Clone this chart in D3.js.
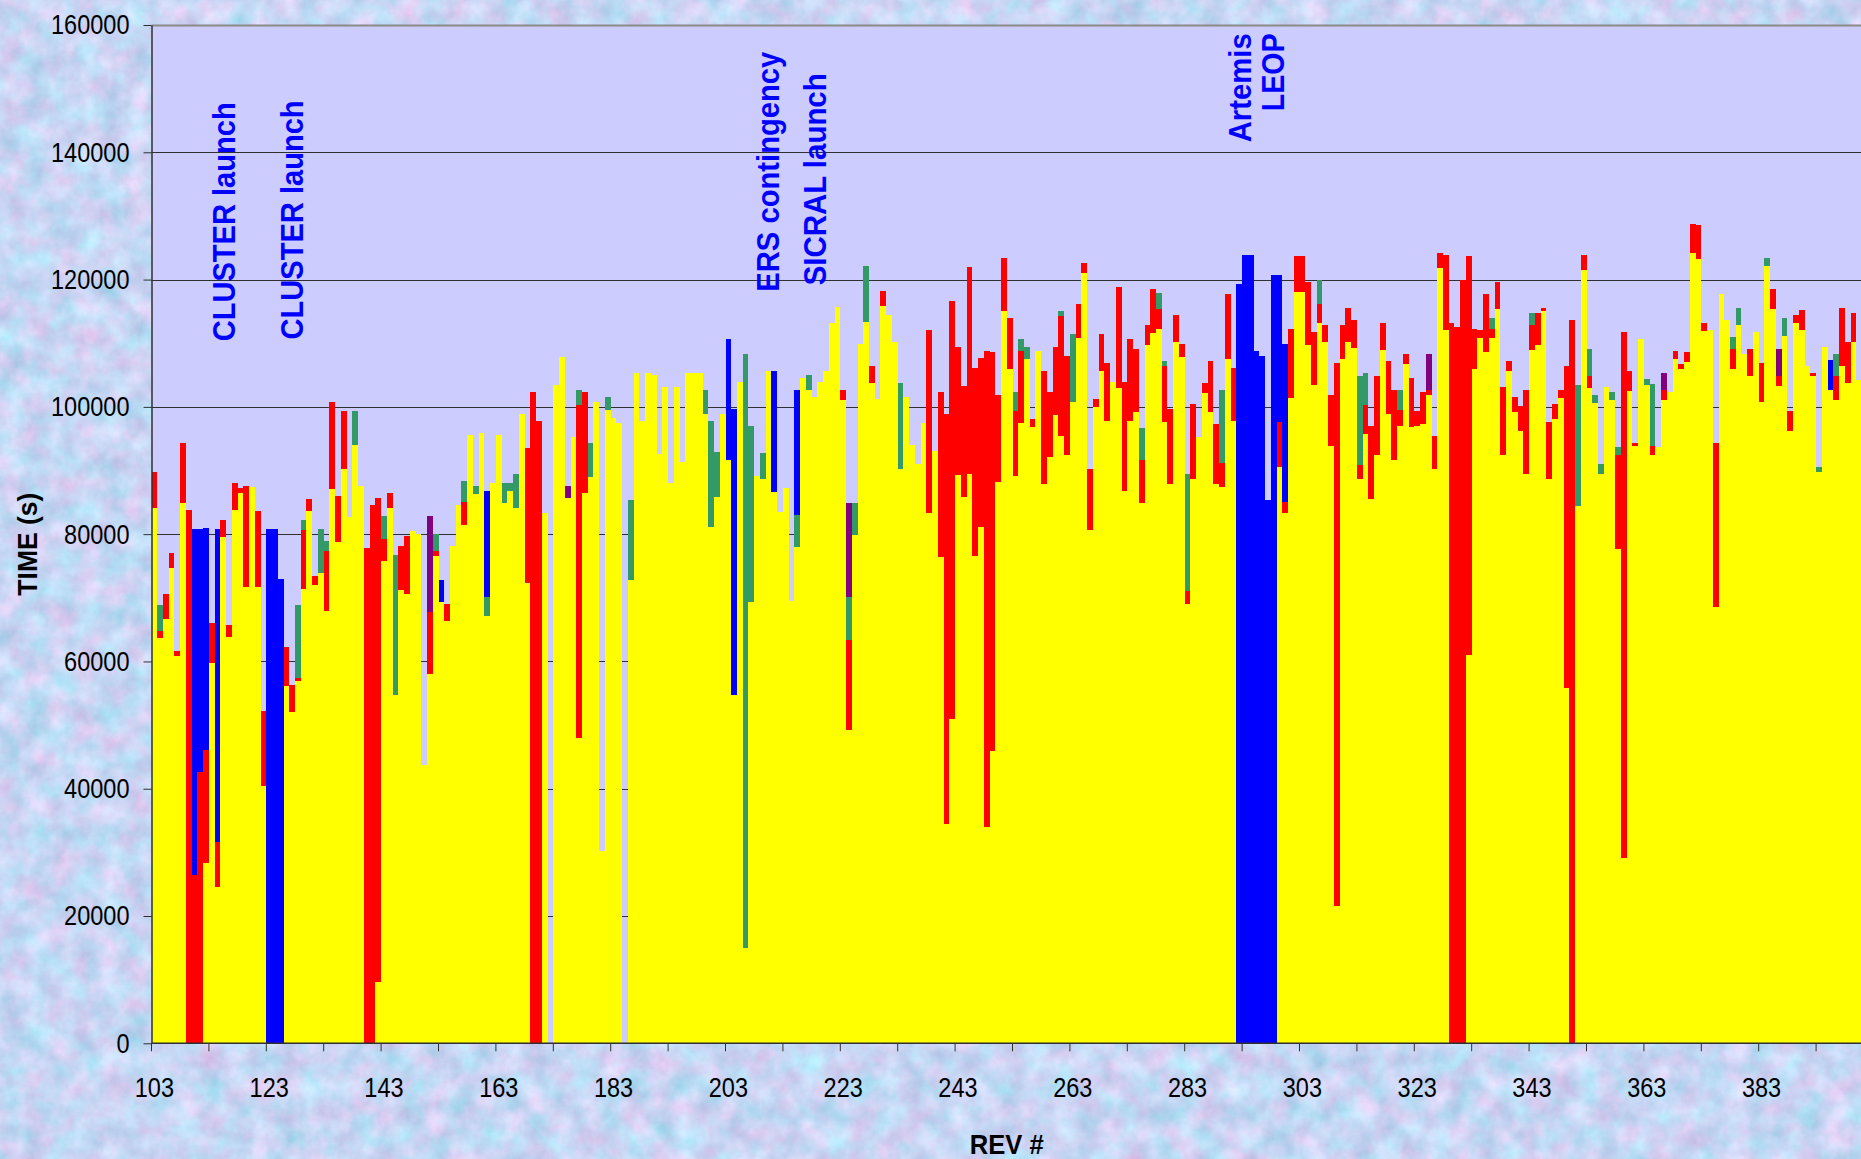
<!DOCTYPE html>
<html>
<head>
<meta charset="utf-8">
<script src="https://d3js.org/d3.v7.min.js"></script>
<style>
  html, body { margin: 0; padding: 0; background: #c7d5f3; }
  svg { display: block; }
  text { font-family: "Liberation Sans", Arial, Helvetica, sans-serif; }
</style>
</head>
<body>
<div id="chart"></div>
<script>
// revolutions shown on the category axis
var firstRev = 103, lastRev = 400;
var revs = d3.range(firstRev, lastRev + 1);
var yTicks = [0, 20000, 40000, 60000, 80000, 100000, 120000, 140000, 160000];
var tickEvery = 10, labelEvery = 20;

// time per rev (s), one array per coloured series, stacked in this order
var yellowVals = [
  84100, 63700, 66600, 74700, 60800, 84900, 0, 0, 0, 28400,
  59700, 24500, 79600, 63900, 83800, 86500, 71700, 87400, 71700, 40500,
  0, 0, 0, 56100, 52100, 57000, 71400, 83600, 72000, 73900,
  67900, 87100, 78800, 90300, 82700, 94000, 87500, 0, 0, 9600,
  75800, 84100, 54800, 71300, 70600, 80500, 80000, 43800, 58000, 76500,
  69300, 66400, 78200, 84600, 81400, 95600, 86300, 95900, 67100, 88000,
  95600, 84900, 86800, 84100, 98800, 72300, 0, 0, 83400, 0,
  103500, 107900, 85700, 95200, 48000, 86400, 89000, 100700, 30200, 99500,
  98200, 97500, 0, 72800, 105300, 97800, 105300, 105000, 92600, 103100,
  88000, 103100, 91300, 105300, 105300, 105300, 98800, 81100, 85800, 98800,
  91700, 54800, 103900, 15000, 69300, 89100, 88600, 105600, 86700, 83500,
  87300, 69500, 78000, 104600, 102600, 101500, 103900, 105600, 113200, 115700,
  101100, 49300, 79800, 109900, 113400, 103700, 101300, 115800, 114500, 110200,
  90200, 101500, 94000, 91100, 97500, 83400, 93000, 76400, 34400, 51000,
  89300, 85800, 89500, 76500, 81100, 34000, 46000, 88200, 115100, 106000,
  89100, 97400, 107500, 96800, 108800, 87900, 92100, 98700, 95400, 92400,
  100700, 110800, 121100, 80700, 100000, 105700, 97800, 103900, 102900, 86800,
  97800, 99200, 84900, 109700, 111600, 112300, 97600, 87900, 110200, 107900,
  69100, 88600, 95200, 102200, 99200, 87900, 87400, 107500, 97800, 0,
  0, 0, 0, 0, 0, 0, 90600, 83400, 101400, 118000,
  118000, 109700, 103500, 113200, 110200, 93900, 21600, 107500, 110200, 109200,
  88600, 95700, 85500, 92400, 109000, 98900, 91700, 97000, 106800, 96800,
  97000, 97300, 101800, 90200, 121800, 112100, 0, 0, 0, 61000,
  105900, 110800, 108600, 110800, 115400, 92400, 105700, 99200, 96200, 89500,
  109000, 109700, 115100, 88600, 98100, 101400, 55800, 0, 84500, 121500,
  102900, 100600, 89500, 103100, 101100, 77600, 29100, 102500, 93900, 110600,
  103500, 92400, 93700, 101100, 102400, 107500, 105900, 107000, 124200, 123300,
  111900, 112100, 68600, 117800, 113600, 105900, 112800, 108300, 104800, 111700,
  100700, 122200, 115400, 103300, 111200, 96200, 113200, 112100, 106400, 104800,
  89700, 109400, 102600, 101100, 106400, 103700, 110200, 104200
];
var redVals = [
  5700, 1100, 4000, 2400, 800, 9400, 83800, 26400, 42700, 17700,
  6300, 7200, 2600, 1800, 4200, 700, 15800, 0, 11900, 11700,
  0, 0, 0, 6200, 4200, 400, 9300, 2000, 1500, 0,
  9500, 13600, 7200, 9000, 0, 0, 0, 77800, 84600, 76100,
  3500, 2400, 0, 6900, 9100, 0, 0, 0, 9700, 900,
  0, 2600, 0, 0, 3700, 0, 0, 0, 0, 0,
  0, 0, 0, 0, 0, 21200, 102400, 97800, 0, 0,
  0, 0, 0, 0, 52300, 15900, 0, 0, 0, 0,
  0, 0, 0, 0, 0, 0, 0, 0, 0, 0,
  0, 0, 0, 0, 0, 0, 0, 0, 0, 0,
  0, 0, 0, 0, 0, 0, 0, 0, 0, 0,
  0, 0, 0, 0, 0, 0, 0, 0, 0, 0,
  1500, 14100, 0, 0, 0, 2700, 0, 2400, 0, 0,
  0, 0, 0, 0, 0, 28700, 0, 26000, 64500, 65600,
  20100, 17400, 32500, 29600, 26600, 74800, 62600, 13600, 8300, 8000,
  10200, 11300, 0, 1300, 0, 17800, 10300, 10700, 18900, 15600,
  0, 5300, 1500, 9600, 1300, 5800, 9100, 0, 15900, 17100,
  12900, 9900, 6800, 3100, 6900, 3100, 8800, 11800, 4200, 2000,
  1900, 11800, 0, 1500, 8000, 9400, 3800, 10200, 8300, 0,
  0, 0, 0, 0, 0, 0, 7000, 1700, 10900, 5700,
  5700, 9900, 8300, 3000, 2600, 8000, 85300, 5300, 5300, 4400,
  2200, 4600, 11500, 12500, 4200, 8300, 10900, 2500, 1500, 7700,
  2300, 5100, 800, 5300, 2400, 11800, 113200, 112500, 120000, 62700,
  6400, 1300, 9200, 1500, 4200, 10700, 1500, 2300, 4000, 13100,
  3900, 5000, 500, 9100, 2300, 1200, 50600, 113600, 0, 2400,
  1900, 0, 0, 0, 0, 14800, 82600, 3100, 400, 0,
  0, 1400, 0, 1500, 0, 1300, 800, 1600, 4500, 5300,
  1300, 0, 25700, 0, 0, 3200, 0, 0, 4300, 0,
  6200, 0, 3100, 1500, 0, 3100, 1300, 3100, 0, 500,
  0, 0, 0, 3800, 9100, 6500, 4500, 0
];
var greenVals = [
  0, 4000, 0, 0, 0, 0, 0, 0, 0, 0,
  0, 0, 0, 0, 0, 0, 0, 0, 0, 0,
  0, 0, 0, 0, 0, 11400, 1500, 0, 0, 6900,
  1500, 0, 0, 0, 0, 5300, 0, 0, 0, 0,
  3500, 0, 21900, 0, 0, 0, 0, 0, 0, 2600,
  0, 0, 0, 0, 3200, 0, 1300, 0, 3000, 0,
  0, 3100, 1300, 5400, 0, 0, 0, 0, 0, 0,
  0, 0, 0, 0, 2300, 0, 5300, 0, 0, 2000,
  0, 0, 0, 12500, 0, 0, 0, 0, 0, 0,
  0, 0, 0, 0, 0, 0, 3800, 16700, 7100, 0,
  0, 0, 0, 93300, 27700, 0, 4200, 0, 0, 0,
  0, 0, 5000, 0, 2400, 0, 0, 0, 0, 0,
  0, 6700, 5100, 0, 8800, 0, 0, 0, 0, 0,
  13500, 0, 0, 0, 0, 0, 0, 0, 0, 0,
  0, 0, 0, 0, 0, 0, 0, 0, 0, 0,
  3100, 2000, 1900, 0, 0, 0, 0, 0, 800, 0,
  10700, 0, 0, 0, 0, 0, 0, 0, 0, 0,
  0, 0, 5000, 0, 0, 2500, 800, 0, 0, 0,
  18500, 0, 0, 0, 0, 0, 11400, 0, 0, 0,
  0, 0, 0, 0, 0, 0, 0, 0, 0, 0,
  0, 0, 0, 3800, 0, 0, 0, 0, 0, 0,
  14000, 5000, 0, 0, 0, 0, 0, 3100, 0, 0,
  0, 0, 0, 0, 0, 0, 0, 0, 0, 0,
  0, 0, 0, 1600, 0, 0, 0, 0, 0, 0,
  1900, 0, 0, 0, 0, 0, 0, 0, 19000, 0,
  4300, 1300, 1500, 0, 1300, 1300, 0, 0, 0, 0,
  800, 9800, 0, 0, 0, 0, 0, 0, 0, 0,
  0, 0, 0, 0, 0, 1900, 2700, 0, 0, 0,
  0, 1200, 0, 0, 2700, 0, 0, 0, 0, 0,
  900, 0, 0, 3400, 0, 0, 0, 0
];
var purpleVals = [
  0, 0, 0, 0, 0, 0, 0, 0, 0, 0,
  0, 0, 0, 0, 0, 0, 0, 0, 0, 0,
  0, 0, 0, 0, 0, 0, 0, 0, 0, 0,
  0, 0, 0, 0, 0, 0, 0, 0, 0, 0,
  0, 0, 0, 0, 0, 0, 0, 0, 15200, 0,
  0, 0, 0, 0, 0, 0, 0, 0, 0, 0,
  0, 0, 0, 0, 0, 0, 0, 0, 0, 0,
  0, 0, 1900, 0, 0, 0, 0, 0, 0, 0,
  0, 0, 0, 0, 0, 0, 0, 0, 0, 0,
  0, 0, 0, 0, 0, 0, 0, 0, 0, 0,
  0, 0, 0, 0, 0, 0, 0, 0, 0, 0,
  0, 0, 0, 0, 0, 0, 0, 0, 0, 0,
  0, 14800, 0, 0, 0, 0, 0, 0, 0, 0,
  0, 0, 0, 0, 0, 0, 0, 0, 0, 0,
  0, 0, 0, 0, 0, 0, 0, 0, 0, 0,
  0, 0, 0, 0, 0, 0, 0, 0, 0, 0,
  0, 0, 0, 0, 0, 0, 0, 0, 0, 0,
  0, 0, 0, 0, 0, 0, 0, 0, 0, 0,
  0, 0, 0, 0, 0, 0, 0, 0, 0, 0,
  0, 0, 0, 0, 0, 0, 0, 0, 0, 0,
  0, 0, 0, 0, 0, 0, 0, 0, 0, 0,
  0, 0, 0, 0, 0, 0, 0, 0, 0, 0,
  0, 0, 5700, 0, 0, 0, 0, 0, 0, 0,
  0, 0, 0, 0, 0, 0, 0, 0, 0, 0,
  0, 0, 0, 0, 0, 0, 0, 0, 0, 0,
  0, 0, 0, 0, 0, 0, 0, 0, 0, 0,
  0, 0, 0, 2700, 0, 0, 0, 0, 0, 0,
  0, 0, 0, 0, 0, 0, 0, 0, 0, 0,
  0, 0, 0, 4300, 0, 0, 0, 0, 0, 0,
  0, 0, 0, 0, 0, 0, 0, 0
];
var blueVals = [
  0, 0, 0, 0, 0, 0, 0, 54400, 38100, 34800,
  0, 49100, 0, 0, 0, 0, 0, 0, 0, 0,
  80800, 80800, 73000, 0, 0, 0, 0, 0, 0, 0,
  0, 0, 0, 0, 0, 0, 0, 0, 0, 0,
  0, 0, 0, 0, 0, 0, 0, 0, 0, 0,
  3500, 0, 0, 0, 0, 0, 0, 0, 16700, 0,
  0, 0, 0, 0, 0, 0, 0, 0, 0, 0,
  0, 0, 0, 0, 0, 0, 0, 0, 0, 0,
  0, 0, 0, 0, 0, 0, 0, 0, 0, 0,
  0, 0, 0, 0, 0, 0, 0, 0, 0, 0,
  19000, 44900, 0, 0, 0, 0, 0, 0, 18900, 0,
  0, 0, 19600, 0, 0, 0, 0, 0, 0, 0,
  0, 0, 0, 0, 0, 0, 0, 0, 0, 0,
  0, 0, 0, 0, 0, 0, 0, 0, 0, 0,
  0, 0, 0, 0, 0, 0, 0, 0, 0, 0,
  0, 0, 0, 0, 0, 0, 0, 0, 0, 0,
  0, 0, 0, 0, 0, 0, 0, 0, 0, 0,
  0, 0, 0, 0, 0, 0, 0, 0, 0, 0,
  0, 0, 0, 0, 0, 0, 0, 0, 0, 119300,
  123900, 123900, 108800, 108000, 85300, 120700, 23100, 24800, 0, 0,
  0, 0, 0, 0, 0, 0, 0, 0, 0, 0,
  0, 0, 0, 0, 0, 0, 0, 0, 0, 0,
  0, 0, 0, 0, 0, 0, 0, 0, 0, 0,
  0, 0, 0, 0, 0, 0, 0, 0, 0, 0,
  0, 0, 0, 0, 0, 0, 0, 0, 0, 0,
  0, 0, 0, 0, 0, 0, 0, 0, 0, 0,
  0, 0, 0, 0, 0, 0, 0, 0, 0, 0,
  0, 0, 0, 0, 0, 0, 0, 0, 0, 0,
  0, 0, 0, 0, 0, 0, 0, 0, 0, 0,
  0, 0, 4700, 0, 0, 0, 0, 0
];

// event labels: rev where the text baseline sits, time where it starts/ends
var notes = [
  {label: "CLUSTER launch", rev: 117.5, t: 110300, anchor: "start", len: 239},
  {label: "CLUSTER launch", rev: 129.4, t: 110600, anchor: "start", len: 239},
  {label: "ERS contingency", rev: 212.4, t: 118100, anchor: "start", len: 240},
  {label: "SICRAL launch", rev: 220.5, t: 119100, anchor: "start", len: 212},
  {label: "Artemis", rev: 294.6, t: 158700, anchor: "end", len: 109},
  {label: "LEOP", rev: 300.3, t: 158700, anchor: "end", len: 78}
];

var W = 1861, H = 1159;
var plotL = 151.5, plotT = 25, plotB = 1043.3;
var barStep = 5.74;
var plotR = plotL + revs.length * barStep;

var keys = ["yellow", "red", "green", "purple", "blue"];
var colors = {yellow: "#ffff00", red: "#ff0000", green: "#339966", purple: "#800080", blue: "#0000ff"};

var table = revs.map(function(r, i) {
    return {rev: r, yellow: yellowVals[i], red: redVals[i], green: greenVals[i],
            purple: purpleVals[i], blue: blueVals[i]};
});

var svg = d3.select("#chart").append("svg")
    .attr("width", W)
    .attr("height", H);

// soft mottled blue / pink backdrop
var filter = svg.append("defs").append("filter")
    .attr("id", "paper")
    .attr("x", 0).attr("y", 0).attr("width", "100%").attr("height", "100%")
    .attr("color-interpolation-filters", "sRGB");
filter.append("feTurbulence")
    .attr("type", "fractalNoise")
    .attr("baseFrequency", 0.04)
    .attr("numOctaves", 5)
    .attr("seed", 7);
filter.append("feColorMatrix")
    .attr("type", "matrix")
    .attr("values", "0.32 0.2 0 0 0.52  -0.1 0.2 0 0 0.79  0 0.15 0 0 0.88  0 0 0 0 1");

svg.append("rect")
    .attr("width", W)
    .attr("height", H)
    .attr("filter", "url(#paper)");

var x = d3.scaleBand()
    .domain(revs)
    .range([plotL, plotR])
    .paddingInner(0)
    .paddingOuter(0);
var xLin = d3.scaleLinear()
    .domain([firstRev, lastRev + 1])
    .range([plotL, plotR]);
var y = d3.scaleLinear()
    .domain([0, 160000])
    .range([plotB, plotT]);

// plot area
svg.append("rect")
    .attr("x", plotL)
    .attr("y", plotT)
    .attr("width", W - plotL)
    .attr("height", plotB - plotT)
    .attr("fill", "#ccccff");

// gridlines
svg.append("g")
    .selectAll("line")
    .data(yTicks.filter(function(d) { return d > 0; }))
    .join("line")
    .attr("x1", plotL)
    .attr("x2", W)
    .attr("y1", function(d) { return Math.round(y(d)) + 0.5; })
    .attr("y2", function(d) { return Math.round(y(d)) + 0.5; })
    .attr("stroke", function(d) { return d == 160000 ? "#8a8a8a" : "#303030"; })
    .attr("stroke-width", function(d) { return d == 160000 ? 2 : 1; });

// stacked bars
var series = d3.stack().keys(keys)(table);

svg.append("g")
    .attr("shape-rendering", "crispEdges")
    .selectAll("g")
    .data(series)
    .join("g")
    .attr("fill", function(s) { return colors[s.key]; })
    .selectAll("rect")
    .data(function(s) { return s.filter(function(d) { return d[1] > d[0]; }); })
    .join("rect")
    .attr("x", function(d) { return x(d.data.rev); })
    .attr("width", x.bandwidth())
    .attr("y", function(d) { return y(d[1]); })
    .attr("height", function(d) { return y(d[0]) - y(d[1]); });

// Y axis
var yAxis = svg.append("g")
    .attr("transform", "translate(" + plotL + ",0)")
    .call(d3.axisLeft(y).tickValues(yTicks).tickSize(8).tickSizeOuter(0).tickPadding(14)
          .tickFormat(d3.format("d")));
yAxis.select(".domain").attr("stroke", "#303030").attr("stroke-width", 1.5);
yAxis.selectAll(".tick line").attr("stroke", "#303030");
yAxis.selectAll("text")
    .attr("font-size", 28)
    .attr("fill", "#000");

// X axis: labels every 20 revs, ticks every 10 between categories
var xAxis = svg.append("g")
    .attr("transform", "translate(0," + plotB + ")")
    .call(d3.axisBottom(x)
          .tickValues(revs.filter(function(r) { return (r - firstRev) % labelEvery == 0; }))
          .tickSize(0).tickSizeOuter(0));
xAxis.select(".domain").attr("stroke", "#303030").attr("stroke-width", 1.5)
    .attr("d", "M" + plotL + ",0H" + W);
xAxis.selectAll("text")
    .attr("font-size", 28)
    .attr("fill", "#000")
    .attr("y", 53.4)
    .attr("dy", null);

xAxis.append("g")
    .selectAll("line")
    .data(revs.filter(function(r) { return (r - firstRev) % tickEvery == 0; }))
    .join("line")
    .attr("x1", function(r) { return x(r); })
    .attr("x2", function(r) { return x(r); })
    .attr("y1", 0)
    .attr("y2", 8)
    .attr("stroke", "#303030");

// narrow the tick digits the way the original font looks
svg.selectAll(".tick text").each(function() {
    var n = this.getComputedTextLength();
    this.setAttribute("textLength", n * 0.84);
    this.setAttribute("lengthAdjust", "spacingAndGlyphs");
});

// axis titles
svg.append("text")
    .attr("transform", "translate(37," + ((plotT + plotB) / 2 + 10) + ") rotate(-90)")
    .attr("text-anchor", "middle")
    .attr("font-size", 28)
    .attr("font-weight", "bold")
    .attr("textLength", 103)
    .attr("lengthAdjust", "spacingAndGlyphs")
    .text("TIME (s)");

svg.append("text")
    .attr("x", (plotL + 1862) / 2)
    .attr("y", 1154)
    .attr("text-anchor", "middle")
    .attr("font-size", 28)
    .attr("font-weight", "bold")
    .attr("textLength", 74)
    .attr("lengthAdjust", "spacingAndGlyphs")
    .text("REV #");

// event annotations
svg.append("g")
    .selectAll("text")
    .data(notes)
    .join("text")
    .attr("transform", function(d) {
        return "translate(" + xLin(d.rev) + "," + y(d.t) + ") rotate(-90)";
    })
    .attr("text-anchor", function(d) { return d.anchor; })
    .attr("font-size", 32)
    .attr("font-weight", "bold")
    .attr("fill", "#0000ff")
    .attr("textLength", function(d) { return d.len; })
    .attr("lengthAdjust", "spacingAndGlyphs")
    .text(function(d) { return d.label; });
</script>
</body>
</html>
